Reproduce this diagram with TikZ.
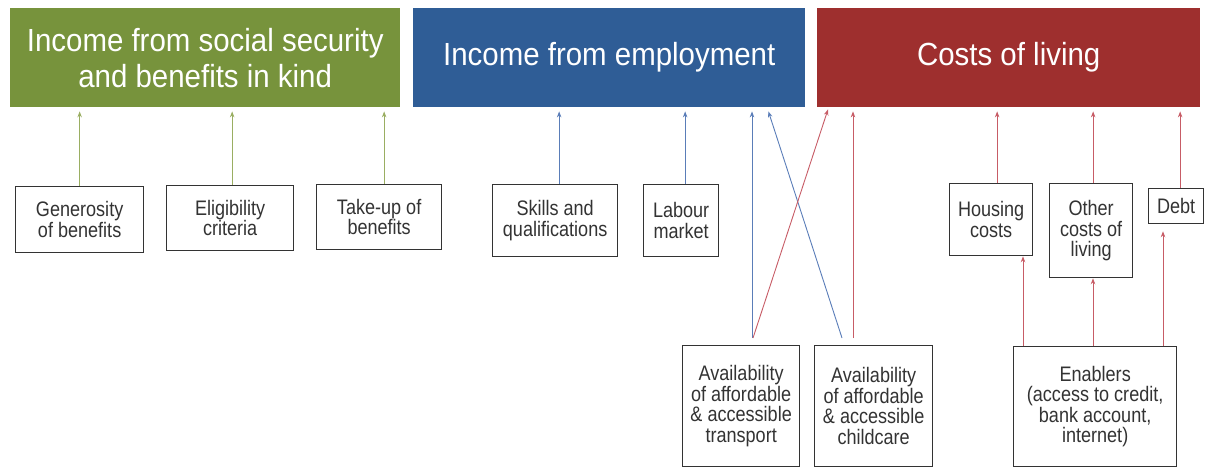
\documentclass[tikz,border=0pt]{standalone}
\usepackage{fontspec}
\setmainfont{Liberation Sans}
\newfontfamily\headfont[FakeStretch=0.92]{Liberation Sans}
\newfontfamily\boxfont[FakeStretch=0.86]{Liberation Sans}
\usetikzlibrary{arrows.meta}
\definecolor{hgreen}{HTML}{77933C}
\definecolor{hblue}{HTML}{2F5D96}
\definecolor{hred}{HTML}{9E2F2E}
\definecolor{agreen}{HTML}{9AAE62}
\definecolor{ablue}{HTML}{5A7DB8}
\definecolor{ared}{HTML}{C75C66}
\definecolor{boxline}{HTML}{333333}
\tikzset{
  head/.style={anchor=north west, inner sep=0pt, align=center, text=white,
    font=\headfont\fontsize{32}{36}\selectfont},
  sbox/.style={draw=boxline, line width=1.3pt, fill=white, anchor=north west,
    inner sep=0pt, align=center, text=black!80, font=\boxfont\fontsize{21}{20.5}\selectfont},
  conn/.style={line width=0.9pt, -{Stealth[length=6pt,width=4.5pt]}},
  garr/.style={conn, agreen},
  barr/.style={conn, ablue},
  rarr/.style={conn, ared}
}
\begin{document}
\begin{tikzpicture}[x=1pt,y=-1pt]
\useasboundingbox (0,0) rectangle (1208,468);
% headers
\node[head, fill=hgreen, minimum width=390pt, minimum height=99pt] (soc) at (10,8)
  {Income from social security\\and benefits in kind};
\node[head, fill=hblue, minimum width=392pt, minimum height=99pt] (emp) at (413,8)
  {Income from employment};
\node[head, fill=hred, minimum width=383pt, minimum height=99pt] (cost) at (817,8)
  {Costs of living};
% small boxes
\node[sbox, minimum width=128pt, minimum height=66pt] (gen) at (15,186) {Generosity\\of benefits};
\node[sbox, minimum width=127pt, minimum height=65pt] (elig) at (166,185) {Eligibility\\criteria};
\node[sbox, minimum width=125pt, minimum height=65pt] (take) at (316,184) {Take-up of\\benefits};
\node[sbox, minimum width=125pt, minimum height=72pt] (skill) at (492,184) {Skills and\\qualifications};
\node[sbox, minimum width=75pt, minimum height=72pt] (lab) at (643,184) {Labour\\market};
\node[sbox, minimum width=117pt, minimum height=121pt] (trans) at (682,345)
  {Availability\\of affordable\\\& accessible\\transport};
\node[sbox, minimum width=118pt, minimum height=121pt] (child) at (814,345)
  {Availability\\of affordable\\\& accessible\\childcare};
\node[sbox, minimum width=83pt, minimum height=72pt] (house) at (949,183) {Housing\\costs};
\node[sbox, minimum width=83pt, minimum height=94pt] (other) at (1049,183) {Other\\costs of\\living};
\node[sbox, minimum width=55pt, minimum height=35pt] (debt) at (1148,188) {Debt};
\node[sbox, minimum width=163pt, minimum height=120pt] (enab) at (1013,346)
  {Enablers\\(access to credit,\\bank account,\\internet)};
% green arrows
\draw[garr] (gen.north) -- ([yshift=-4pt]gen.north |- soc.south);
\draw[garr] ([xshift=2pt]elig.north) -- ([xshift=2pt,yshift=-4pt]elig.north |- soc.south);
\draw[garr] ([xshift=5pt]take.north) -- ([xshift=5pt,yshift=-4pt]take.north |- soc.south);
% blue arrows
\draw[barr] ([xshift=4pt]skill.north) -- ([xshift=4pt,yshift=-4pt]skill.north |- emp.south);
\draw[barr] ([xshift=4pt]lab.north) -- ([xshift=4pt,yshift=-4pt]lab.north |- emp.south);
\draw[barr] ([xshift=70pt,yshift=7pt]trans.north west) -- ([xshift=70pt,yshift=-4pt]trans.north west |- emp.south);
\draw[barr] ([xshift=28pt,yshift=7pt]child.north west) -- ([xshift=-37pt,yshift=-4pt]emp.south east);
% red arrows
\draw[rarr] ([xshift=71pt,yshift=7pt]trans.north west) -- ([xshift=11pt,yshift=-2pt]cost.south west);
\draw[rarr] ([xshift=39pt,yshift=7pt]child.north west) -- ([xshift=39pt,yshift=-4pt]child.north west |- cost.south);
\draw[rarr] ([xshift=6pt]house.north) -- ([xshift=6pt,yshift=-4pt]house.north |- cost.south);
\draw[rarr] ([xshift=2pt]other.north) -- ([xshift=2pt,yshift=-4pt]other.north |- cost.south);
\draw[rarr] ([xshift=4pt]debt.north) -- ([xshift=4pt,yshift=-4pt]debt.north |- cost.south);
\draw[rarr] ([xshift=10pt]enab.north west) -- ([xshift=10pt]enab.north west |- house.south);
\draw[rarr] ([xshift=80pt]enab.north west) -- ([xshift=80pt]enab.north west |- other.south);
\draw[rarr] ([xshift=150pt]enab.north west) -- ([xshift=150pt,yshift=-7pt]enab.north west |- debt.south);
\end{tikzpicture}
\end{document}
